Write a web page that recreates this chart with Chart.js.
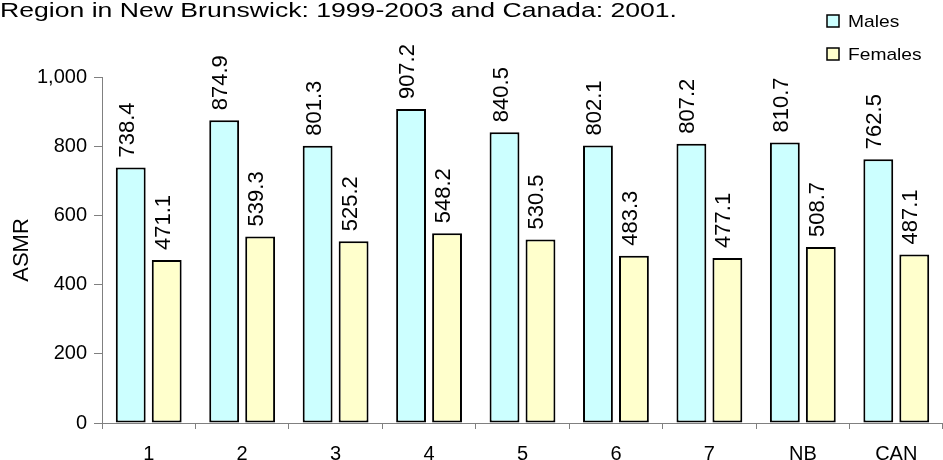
<!DOCTYPE html>
<html>
<head>
<meta charset="utf-8">
<script src="https://cdn.jsdelivr.net/npm/chart.js@4"></script>
<style>
  html, body { margin: 0; padding: 0; background: #fff; }
  #wrap { width: 943px; height: 460px; position: relative; }
</style>
</head>
<body>
<div id="wrap"><canvas id="Chart"></canvas></div>
<script>
const regions = ["1", "2", "3", "4", "5", "6", "7", "NB", "CAN"];
const males = [738.4, 874.9, 801.3, 907.2, 840.5, 802.1, 807.2, 810.7, 762.5];
const females = [471.1, 539.3, 525.2, 548.2, 530.5, 483.3, 477.1, 508.7, 487.1];
const yTicks = [0, 200, 400, 600, 800, 1000];
const titleText = "Region in New Brunswick: 1999-2003 and Canada: 2001.";

const ctx = document.getElementById("Chart");
const FONT = "'Liberation Sans', Arial, sans-serif";

// titre + legende dessines a la main (texte un peu etire comme l'original)
const extras = {
  id: "extras",
  afterDraw(chart) {
    const c = chart.ctx;
    c.save();
    c.fillStyle = "#000";
    c.font = "21px " + FONT;
    c.textBaseline = "alphabetic";
    c.textAlign = "left";
    const w = c.measureText(titleText).width;
    c.save();
    c.scale(677 / w, 1);
    c.fillText(titleText, 0, 17);
    c.restore();

    chart.data.datasets.forEach((ds, i) => {
      const y = 21 + i * 33;
      c.fillStyle = ds.backgroundColor;
      c.fillRect(827, y - 6, 12, 12);
      c.strokeStyle = "#000";
      c.lineWidth = 1.5;
      c.strokeRect(827, y - 6, 12, 12);
      c.fillStyle = "#000";
      c.font = "17px " + FONT;
      c.textBaseline = "alphabetic";
      c.save();
      c.translate(848, y + 6);
      c.scale(1.13, 1);
      c.fillText(ds.label, 0, 0);
      c.restore();
    });
    c.restore();
  },
};

// etiquettes verticales au-dessus des barres
const barLabels = {
  id: "barLabels",
  afterDatasetsDraw(chart) {
    const c = chart.ctx;
    c.save();
    c.fillStyle = "#000";
    c.font = "22px " + FONT;
    c.textAlign = "left";
    c.textBaseline = "alphabetic";
    chart.data.datasets.forEach((ds, i) => {
      chart.getDatasetMeta(i).data.forEach((bar, j) => {
        c.save();
        c.translate(bar.x, bar.y - 10);
        c.rotate(-Math.PI / 2);
        c.fillText(ds.data[j].toFixed(1), 0, 3);
        c.restore();
      });
    });
    c.restore();
  },
};

const chart = new Chart(ctx, {
  type: "bar",
  data: {
    labels: regions,
    datasets: [
      {
        label: "Males",
        data: males,
        backgroundColor: "#CCFFFF",
        borderColor: "#000",
        borderWidth: 2,
        borderSkipped: false,
        categoryPercentage: 0.77,
        barPercentage: 0.83,
      },
      {
        label: "Females",
        data: females,
        backgroundColor: "#FFFFCC",
        borderColor: "#000",
        borderWidth: 2,
        borderSkipped: false,
        categoryPercentage: 0.77,
        barPercentage: 0.83,
      },
    ],
  },
  options: {
    responsive: true,
    maintainAspectRatio: false,
    animation: false,
    layout: { padding: { top: 77, right: 0, left: 0, bottom: 0 } },
    plugins: {
      legend: { display: false },
      tooltip: { enabled: false },
    },
    scales: {
      x: {
        grid: {
          offset: true,
          drawOnChartArea: false,
          color: "#808080",
          tickLength: 6,
        },
        border: { color: "#808080", width: 1 },
        ticks: {
          color: "#000",
          font: { family: FONT, size: 20 },
          padding: 13,
          maxRotation: 0,
        },
        afterFit(scale) {
          scale.height = 37;
        },
      },
      y: {
        min: 0,
        max: 1000,
        afterBuildTicks(scale) {
          scale.ticks = yTicks.map((v) => ({ value: v }));
        },
        grid: {
          drawOnChartArea: false,
          color: "#808080",
          tickLength: 8,
        },
        border: { color: "#808080", width: 1 },
        ticks: {
          color: "#000",
          font: { family: FONT, size: 20 },
          padding: 7,
        },
        title: {
          display: true,
          text: "ASMR",
          color: "#000",
          font: { family: FONT, size: 22 },
          padding: { top: 9, bottom: 0 },
        },
        afterFit(scale) {
          scale.width = 102;
        },
      },
    },
  },
  plugins: [extras, barLabels],
});
</script>
</body>
</html>
